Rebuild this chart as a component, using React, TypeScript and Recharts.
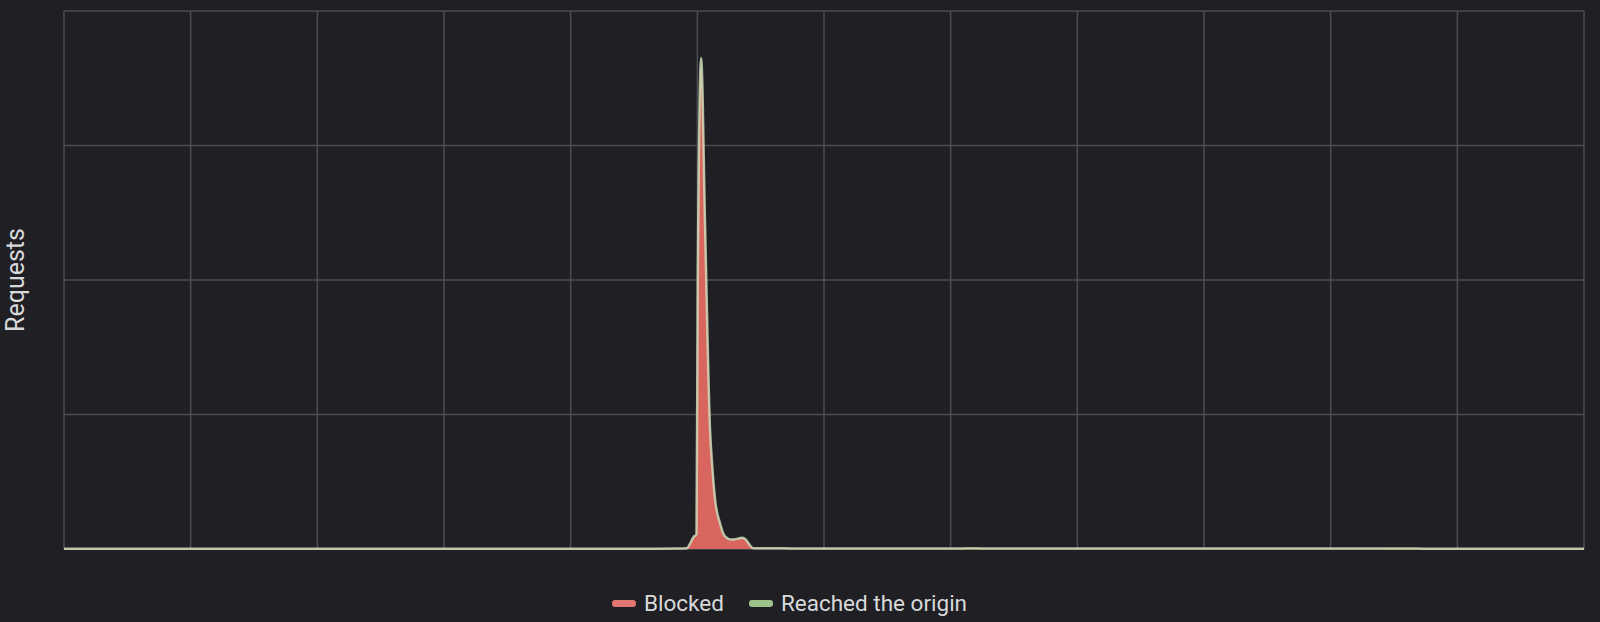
import React from 'react';
import { AreaChart, Area, XAxis, YAxis, CartesianGrid } from 'recharts';

// time in minutes from start of window
const minutes = [
  0, 10, 20, 30, 40, 50, 60, 70, 80, 90, 100, 110, 120, 130, 140, 150, 160, 170, 180, 190,
  200, 210, 220, 230, 240, 250, 260, 270, 280, 290,
  295, 296.5, 298, 299.6, 300.2, 301.8, 303.7, 306, 307, 308.4, 310.8, 313.1, 316, 318, 320, 321.5, 323, 325, 326.5,
  330, 340, 350, 360, 370, 380, 390, 400, 410, 420, 430, 440, 450, 460, 470, 480, 490, 500, 510, 520,
  530, 540, 550, 560, 570, 580, 590, 600, 610, 620, 630, 640, 650, 660, 670, 680, 690, 700, 710, 720,
];

const blocked = [
  0, 0, 0, 0, 0, 0, 0, 0, 0, 0, 0, 0, 0, 0, 0, 0, 0, 0, 0, 0,
  0, 0, 0, 0, 0, 0, 0, 0, 0, 1,
  3, 35, 80, 105, 1950, 3560, 2350, 880, 620, 360, 180, 88, 66, 68, 74, 78, 64, 22, 3,
  2, 2, 1, 1, 1, 1, 1, 1, 1, 1, 1, 1, 1, 1, 1, 1, 1, 1, 1, 1,
  1, 1, 1, 1, 1, 1, 1, 1, 1, 1, 0, 0, 0, 0, 0, 0, 0, 0, 0, 0,
];

const reached = [
  2, 2, 2, 2, 2, 2, 2, 2, 2, 2, 2, 2, 2, 2, 2, 2, 2, 2, 2, 2,
  2, 2, 2, 2, 2, 2, 2, 2, 2, 2,
  2, 3, 5, 6, 40, 90, 30, 14, 11, 9, 8, 6, 5, 5, 6, 6, 5, 4, 2,
  3, 3, 3, 3, 3, 3, 3, 3, 3, 3, 4, 3, 3, 3, 3, 3, 3, 3, 3, 3,
  3, 3, 3, 3, 3, 3, 3, 3, 3, 3, 3, 3, 2, 2, 2, 2, 2, 2, 2, 2,
];

const xTicks = [0, 60, 120, 180, 240, 300, 360, 420, 480, 540, 600, 660, 720];
const yTicks = [0, 1000, 2000, 3000, 4000];

const seriesNames = ['Blocked', 'Reached the origin'];
const seriesColors = ['#e07571', '#9dc38c'];

const data = minutes.map((t, i) => ({ t, blocked: blocked[i], reached: reached[i] }));

const NoTick = () => <g />;

export default function App() {
  return (
    <div
      style={{
        position: 'absolute',
        left: 0,
        top: 0,
        width: 1600,
        height: 622,
        background: '#1f1f24',
        fontFamily: 'Roboto, sans-serif',
        overflow: 'hidden',
      }}
    >
      <AreaChart width={1600} height={622} data={data} margin={{ top: 11, right: 16, bottom: 73, left: 0 }}>
        <CartesianGrid stroke="#4c4c52" strokeWidth={1.5} />
        <XAxis dataKey="t" type="number" domain={[0, 720]} ticks={xTicks} hide />
        <YAxis
          type="number"
          domain={[0, 4000]}
          ticks={yTicks}
          width={64}
          tick={NoTick}
          axisLine={false}
          tickLine={false}
          label={{
            value: 'Requests',
            angle: -90,
            position: 'center',
            dx: -17,
            fill: '#d8d9da',
            fontSize: 25,
            fontFamily: 'Roboto, sans-serif',
          }}
        />
        <Area
          type="monotone"
          dataKey="blocked"
          name={seriesNames[0]}
          stackId="a"
          stroke="#d8665f"
          strokeWidth={1}
          fill="#d8665f"
          fillOpacity={1}
          dot={false}
          activeDot={false}
          isAnimationActive={false}
        />
        <Area
          type="monotone"
          dataKey="reached"
          name={seriesNames[1]}
          stackId="a"
          stroke="#cfe0bd"
          strokeOpacity={0.8}
          strokeWidth={2.5}
          fill="#9dc38c"
          fillOpacity={0.7}
          dot={false}
          activeDot={false}
          isAnimationActive={false}
        />
      </AreaChart>
      <div
        style={{
          position: 'absolute',
          left: 612,
          top: 590,
          height: 26,
          display: 'flex',
          alignItems: 'center',
          color: '#d8d9da',
          fontSize: 22.5,
          fontFamily: 'Roboto, sans-serif',
        }}
      >
        {seriesNames.map((n, i) => (
          <div key={n} style={{ display: 'flex', alignItems: 'center', marginRight: i === 0 ? 25 : 0 }}>
            <div style={{ width: 24, height: 7, borderRadius: 3, background: seriesColors[i], marginRight: 8 }} />
            <span>{n}</span>
          </div>
        ))}
      </div>
    </div>
  );
}
